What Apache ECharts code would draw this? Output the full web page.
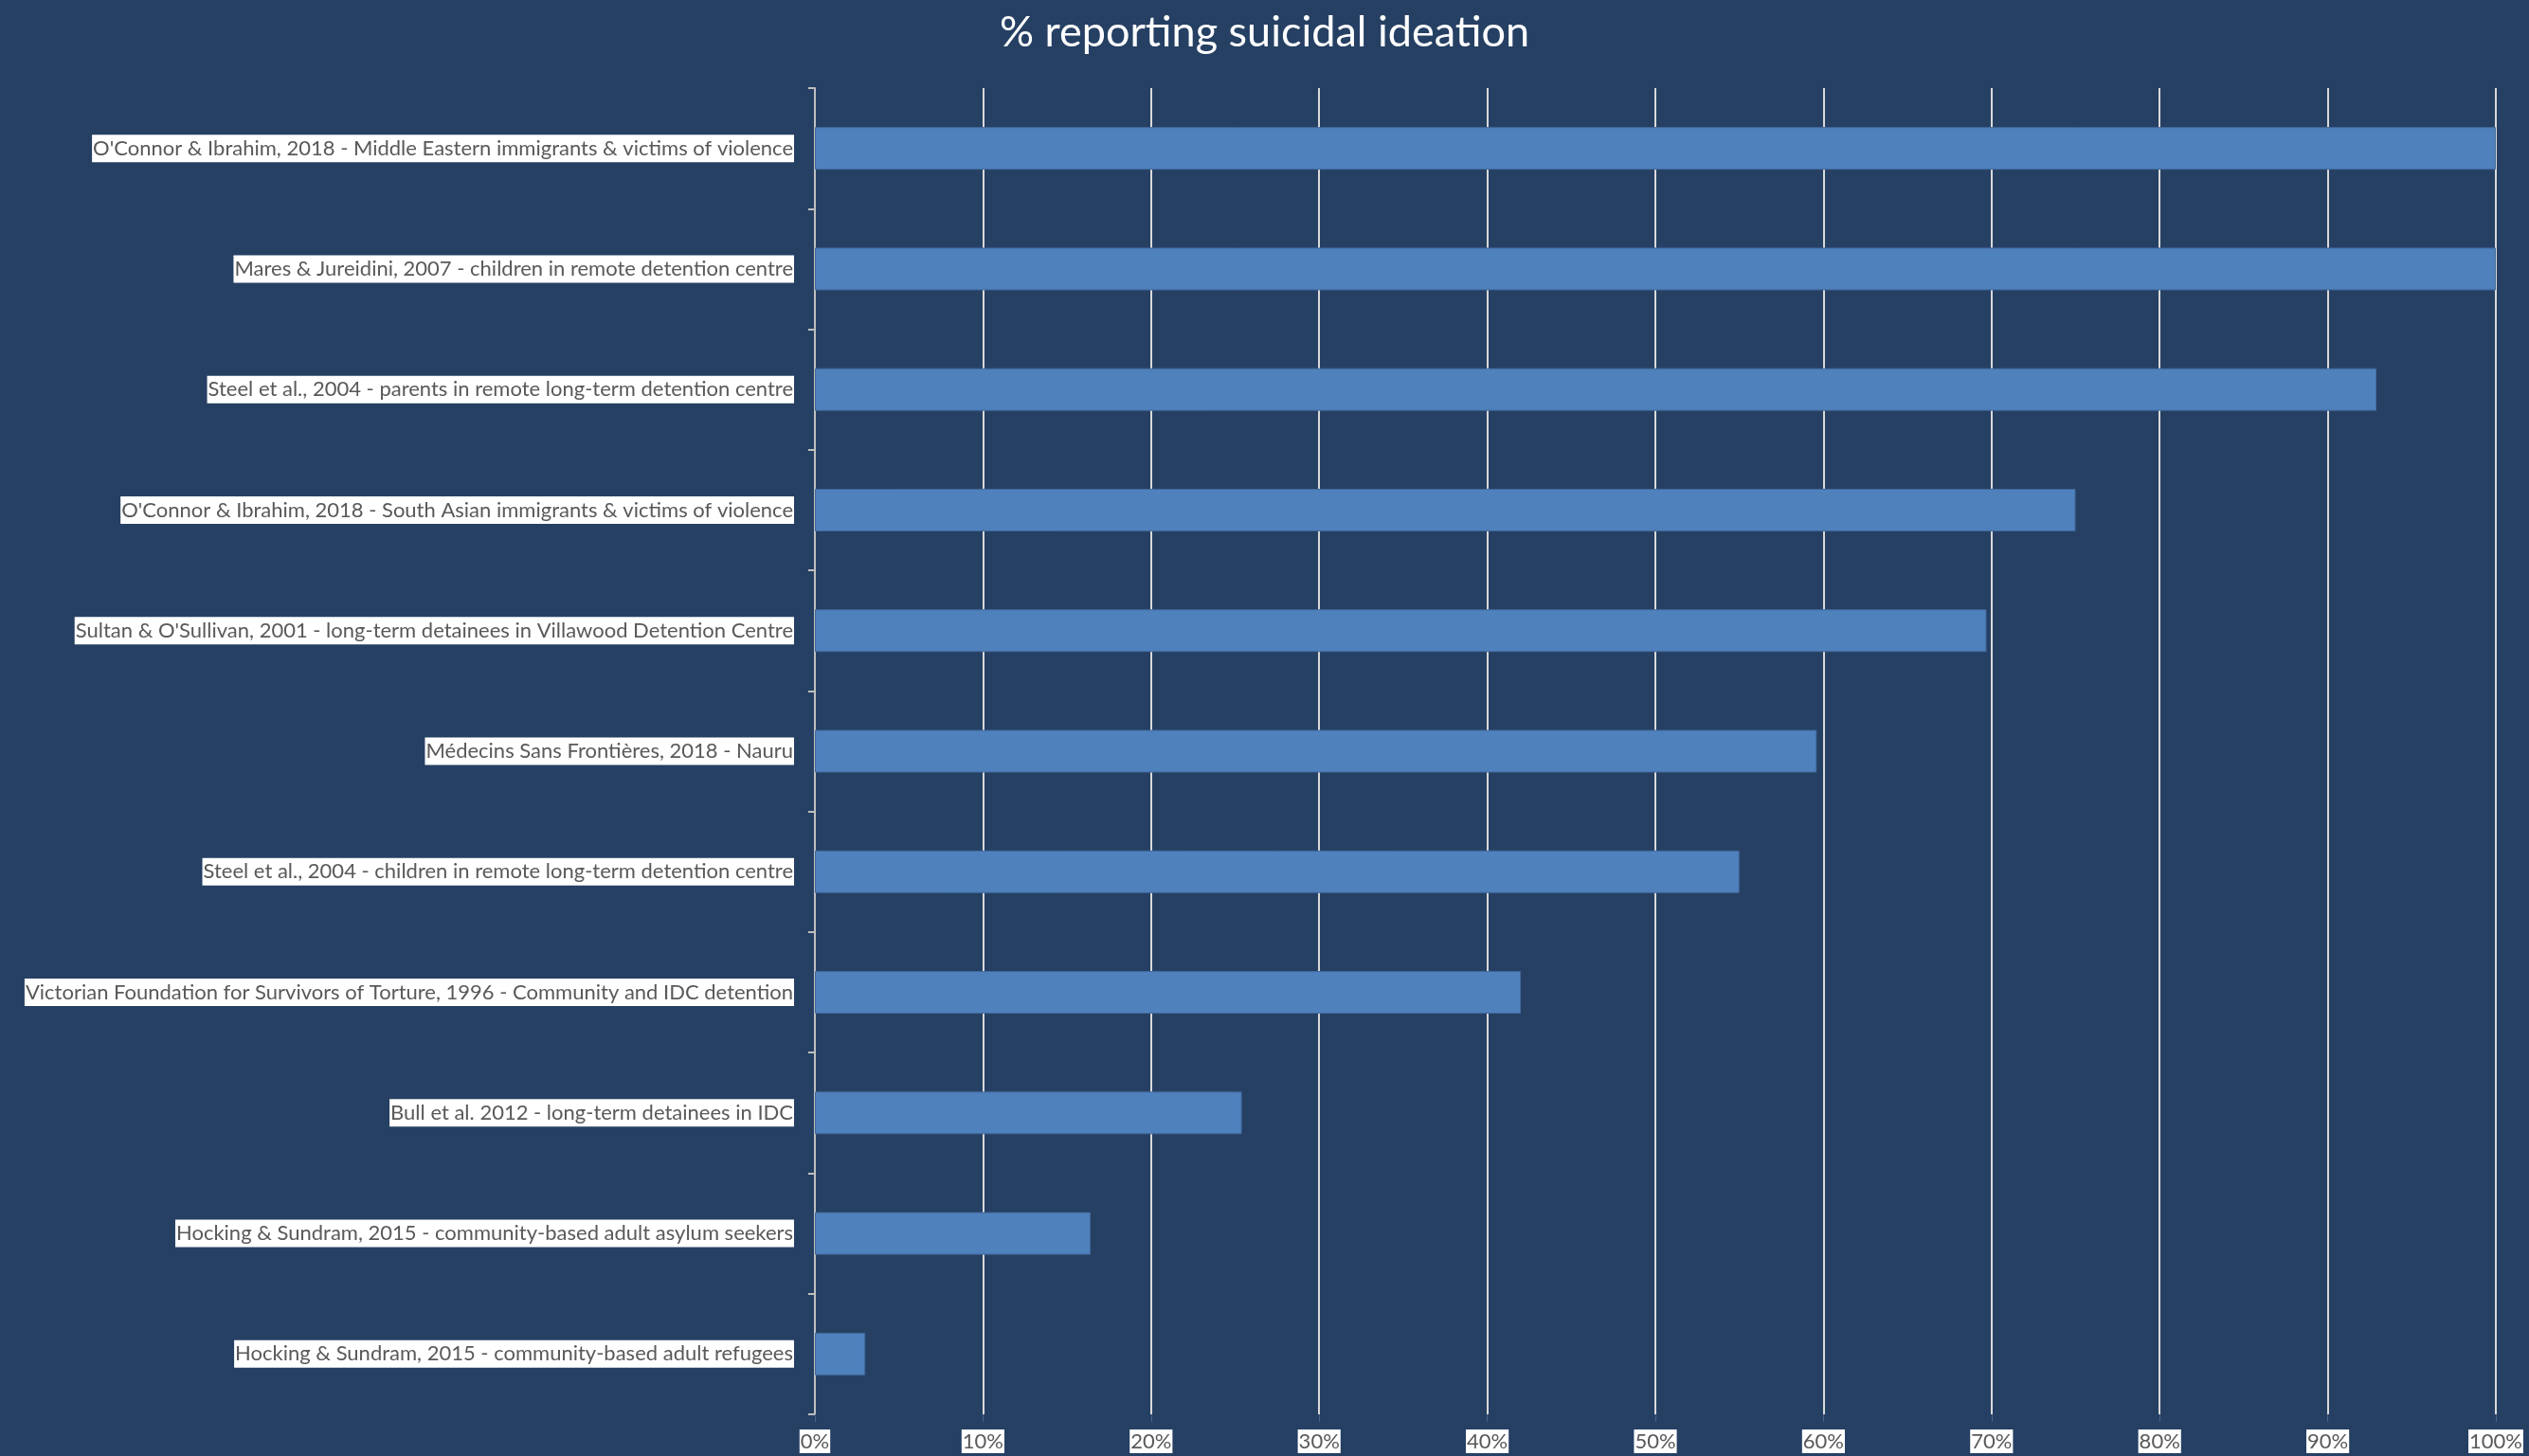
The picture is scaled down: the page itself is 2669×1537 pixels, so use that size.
<!DOCTYPE html>
<html>
<head>
<meta charset="utf-8">
<title>% reporting suicidal ideation</title>
<script src="https://cdn.jsdelivr.net/npm/echarts@6/dist/echarts.min.js"></script>
<style>
  html, body { margin: 0; padding: 0; background: #264064; }
  #chart { width: 2669px; height: 1537px; }
</style>
</head>
<body>
<div id="chart"></div>
<script>
// Studies, listed top to bottom
const studies = [
  "O'Connor & Ibrahim, 2018 - Middle Eastern immigrants & victims of violence",
  "Mares & Jureidini, 2007 - children in remote detention centre",
  "Steel et al., 2004 - parents in remote long-term detention centre",
  "O'Connor & Ibrahim, 2018 - South Asian immigrants & victims of violence",
  "Sultan & O'Sullivan, 2001 - long-term detainees in Villawood Detention Centre",
  "Médecins Sans Frontières, 2018 - Nauru",
  "Steel et al., 2004 - children in remote long-term detention centre",
  "Victorian Foundation for Survivors of Torture, 1996 - Community and IDC detention",
  "Bull et al. 2012 - long-term detainees in IDC",
  "Hocking & Sundram, 2015 - community-based adult asylum seekers",
  "Hocking & Sundram, 2015 - community-based adult refugees"
];

// Percentage reporting suicidal ideation in each study
const ideationPct = [100, 100, 92.9, 75, 69.7, 59.6, 55, 42, 25.4, 16.4, 3];

// Value axis ticks
const pctTicks = [0, 10, 20, 30, 40, 50, 60, 70, 80, 90, 100];

const FONT = "Lato, 'Open Sans', sans-serif";

const chart = echarts.init(document.getElementById('chart'), null, { renderer: 'canvas' });

chart.setOption({
  backgroundColor: '#264064',
  animation: false,
  title: {
    text: '% reporting suicidal ideation',
    left: 'center',
    top: 7,
    textStyle: { color: '#ffffff', fontSize: 45, fontWeight: 'normal', fontFamily: FONT }
  },
  grid: {
    left: 860, right: 35, top: 93, bottom: 44,
    containLabel: false,
    outerBoundsMode: 'none'
  },
  xAxis: {
    type: 'value',
    min: pctTicks[0],
    max: pctTicks[pctTicks.length - 1],
    interval: pctTicks[1] - pctTicks[0],
    axisLine: { show: false },
    axisTick: { show: true, length: 8, lineStyle: { color: '#4a6288', width: 1 } },
    splitLine: { show: true, lineStyle: { color: '#d9d9d9', width: 2 } },
    axisLabel: {
      formatter: v => v + '%',
      color: '#595959',
      fontSize: 22,
      fontFamily: FONT,
      backgroundColor: '#ffffff',
      padding: [2, 1, 1, 1],
      margin: 16
    }
  },
  yAxis: {
    type: 'category',
    inverse: true,
    data: studies,
    axisLine: { show: true, lineStyle: { color: '#bfbfbf', width: 2 } },
    axisTick: { show: true, length: 7, lineStyle: { color: '#bfbfbf', width: 2 } },
    axisLabel: {
      color: '#595959',
      fontSize: 22,
      fontFamily: FONT,
      backgroundColor: '#ffffff',
      padding: [4, 1, 3, 1],
      margin: 22
    }
  },
  series: [{
    type: 'bar',
    data: ideationPct,
    barWidth: 45,
    itemStyle: { color: '#4f81bd', borderColor: '#41699a', borderWidth: 1 }
  }]
});
</script>
</body>
</html>
